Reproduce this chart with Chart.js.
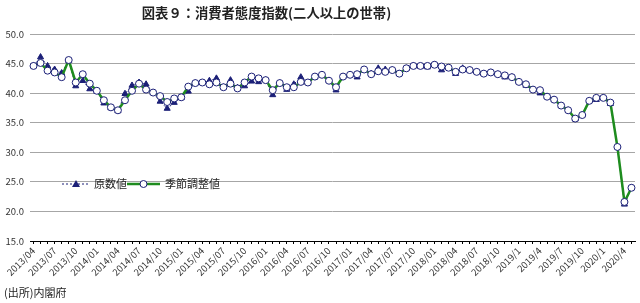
<!DOCTYPE html>
<html>
<head>
<meta charset="utf-8">
<script src="https://cdn.jsdelivr.net/npm/chart.js@4.4.1/dist/chart.umd.min.js"></script>
<style>
  body { margin: 0; background: #fff; }
  #wrap { position: relative; width: 640px; height: 303px; }
  #title { position: absolute; left: 0; width: 533px; top: 3px; text-align: center;
    font: bold 13.3px "Noto Sans CJK JP", sans-serif; color: #222; }
  #src { position: absolute; left: 4px; top: 284px; font: 11px "Noto Sans CJK JP", sans-serif; color: #222; }
</style>
</head>
<body>
<div id="wrap">
  <canvas id="myChart" width="640" height="303"></canvas>
  <div id="title">図表９：消費者態度指数(二人以上の世帯)</div>
  <div id="src">(出所)内閣府</div>
</div>
<script>
// 2013/04 - 2020/05, monthly
let months = [];
for (let y = 2013, m = 4; months.length < 86; ) {
  months.push(y + "/" + m);
  m++;
  if (m > 12) { m = 1; y++; }
}

let tickLabels = [
  "2013/04", "2013/07", "2013/10",
  "2014/01", "2014/04", "2014/07", "2014/10",
  "2015/01", "2015/04", "2015/07", "2015/10",
  "2016/01", "2016/04", "2016/07", "2016/10",
  "2017/01", "2017/04", "2017/07", "2017/10",
  "2018/01", "2018/04", "2018/07", "2018/10",
  "2019/1", "2019/4", "2019/7", "2019/10",
  "2020/1", "2020/4",
];

// 原数値
let raw = [
  44.6, 46.1, 44.6, 44.0, 43.4, 45.5, 41.2, 42.1, 40.7,
  40.3, 38.3, 37.5, 37.0, 39.9, 41.3, 41.8, 41.5, 40.1, 38.6, 37.4, 38.4,
  39.2, 40.3, 41.7, 41.8, 42.1, 42.5, 41.0, 42.2, 40.9, 41.2, 42.0, 41.9,
  42.2, 39.7, 41.7, 40.6, 41.5, 42.7, 41.8, 42.7, 43.1, 42.1, 40.5, 42.8,
  43.1, 42.7, 44.0, 43.3, 44.2, 44.0, 43.9, 43.3, 44.2, 44.6, 44.5, 44.4,
  44.8, 43.9, 44.3, 43.3, 44.2, 43.9, 43.6, 43.3, 43.5, 43.2, 42.7, 42.7,
  41.9, 41.3, 40.6, 40.0, 39.4, 38.9, 37.9, 37.1, 35.6, 36.3, 38.7, 38.9,
  39.2, 38.2, 30.9, 21.2, 24.0,
];

// 季節調整値
let adj = [
  44.6, 45.1, 43.8, 43.5, 42.7, 45.6, 41.8, 43.2, 41.6,
  40.4, 38.8, 37.6, 37.1, 38.8, 40.4, 41.6, 40.6, 40.1, 39.5, 38.5, 39.1,
  39.3, 41.1, 41.7, 41.8, 41.5, 41.8, 41.0, 41.6, 40.8, 41.8, 42.8, 42.5,
  42.2, 40.5, 41.7, 41.0, 41.0, 41.9, 41.8, 42.8, 43.1, 42.1, 41.0, 42.8,
  43.1, 43.2, 44.0, 43.2, 43.7, 43.6, 43.9, 43.3, 44.2, 44.6, 44.6, 44.6,
  44.8, 44.5, 44.3, 43.6, 44.0, 43.9, 43.6, 43.3, 43.5, 43.2, 43.0, 42.7,
  41.9, 41.5, 40.6, 40.5, 39.4, 38.9, 37.9, 37.1, 35.7, 36.3, 38.7, 39.2,
  39.2, 38.4, 30.9, 21.6, 24.0,
];

const navy = "#1b1f77";
const green = "#1e8c1e";
const font = "'Noto Sans CJK JP', sans-serif";

// legend drawn inside the plot, lower left
const innerLegend = {
  id: "innerLegend",
  afterDraw(chart) {
    const c = chart.ctx;
    const y = 184;
    c.save();
    c.strokeStyle = navy;
    c.lineWidth = 1;
    c.setLineDash([2, 2]);
    c.beginPath(); c.moveTo(62, y); c.lineTo(90, y); c.stroke();
    c.setLineDash([]);
    c.fillStyle = navy;
    c.beginPath(); c.moveTo(76, y - 4); c.lineTo(80, y + 3); c.lineTo(72, y + 3); c.closePath(); c.fill();
    c.strokeStyle = green;
    c.lineWidth = 2.5;
    c.beginPath(); c.moveTo(127, y); c.lineTo(160, y); c.stroke();
    c.fillStyle = "#fff";
    c.strokeStyle = navy;
    c.lineWidth = 1;
    c.beginPath(); c.arc(143.5, y, 3.5, 0, Math.PI * 2); c.fill(); c.stroke();
    c.fillStyle = "#222";
    c.font = "11px " + font;
    c.textBaseline = "middle";
    c.fillText("原数値", 94, y);
    c.fillText("季節調整値", 165, y);
    c.restore();
  },
};

const ctx = document.getElementById("myChart");

let ch = new Chart(ctx, {
  type: "line",
  data: {
    labels: months,
    datasets: [
      {
        label: "原数値",
        data: raw,
        order: 1,
        borderColor: navy,
        borderWidth: 1,
        borderDash: [2, 2],
        pointStyle: "triangle",
        pointRadius: 3.5,
        pointBackgroundColor: navy,
        pointBorderColor: navy,
        pointBorderWidth: 1,
      },
      {
        label: "季節調整値",
        data: adj,
        order: 0,
        borderColor: green,
        borderWidth: 2.5,
        pointStyle: "circle",
        pointRadius: 3.5,
        pointBackgroundColor: "#fff",
        pointBorderColor: navy,
        pointBorderWidth: 1,
      },
    ],
  },
  options: {
    responsive: false,
    animation: false,
    layout: { padding: { top: 34, right: 1, left: 0, bottom: 0 } },
    plugins: { legend: { display: false }, tooltip: { enabled: false } },
    scales: {
      x: {
        offset: true,
        grid: { display: true, drawOnChartArea: false, drawTicks: true, tickLength: 3, color: "#000", offset: false },
        border: { display: true, color: "#000", width: 1 },
        ticks: {
          autoSkip: false,
          maxRotation: 45,
          minRotation: 45,
          padding: 1,
          color: "#333",
          font: { family: font, size: 9.5 },
          callback: (v, i) => (i % 3 === 0 ? tickLabels[i / 3] : ""),
        },
        afterFit: (s) => { s.height = 62; s.paddingLeft = 0; s.paddingRight = 0; },
      },
      y: {
        min: 15,
        max: 50,
        ticks: {
          stepSize: 5,
          padding: 6,
          color: "#333",
          font: { family: font, size: 9.5 },
          callback: (v) => v.toFixed(1),
        },
        grid: { color: "#a6a6a6", lineWidth: 1, drawTicks: false },
        border: { display: false },
        afterFit: (s) => { s.width = 30; },
      },
    },
  },
  plugins: [innerLegend],
});
</script>
</body>
</html>
